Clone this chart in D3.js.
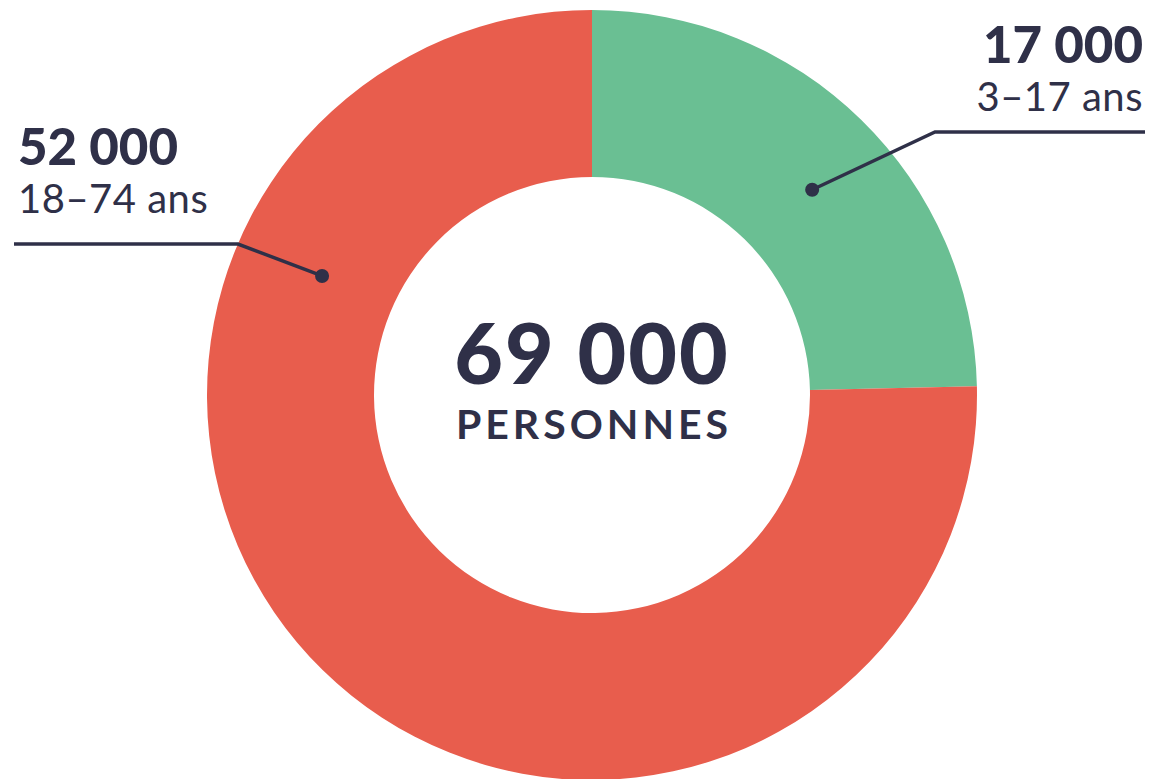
<!DOCTYPE html>
<html>
<head>
<meta charset="utf-8">
<script src="https://cdn.jsdelivr.net/npm/d3@7"></script>
<style>
  body { margin: 0; background: #fff; }
  text { font-family: Lato, "Open Sans", sans-serif; fill: #2f3048; }
</style>
</head>
<body>
<div id="my_dataviz"></div>
<script>
var groups = ["3–17 ans", "18–74 ans"]
var values = [17000, 52000]
var valueLabels = ["17 000", "52 000"]
var totalLabel = "69 000"
var totalUnit = "PERSONNES"

var width = 1150
var height = 779
var cx = 592, cy = 395
var outer = 385, inner = 218
var ink = "#2f3048"

var color = d3.scaleOrdinal().domain(groups).range(["#6abf93", "#e85d4d"])

var svg = d3.select("#my_dataviz")
  .append("svg")
  .attr("width", width)
  .attr("height", height)

var g = svg.append("g").attr("transform", "translate(" + cx + "," + cy + ")")

var data = groups.map(function(k, i){ return {key: k, value: values[i], label: valueLabels[i]} })

// keep the input order: green slice starts at 12 o'clock
var pie = d3.pie().value(function(d){ return d.value }).sort(null)
var data_ready = pie(data)

var arc = d3.arc().innerRadius(inner).outerRadius(outer)

g.selectAll("path")
  .data(data_ready)
  .enter()
  .append("path")
  .attr("d", arc)
  .attr("fill", function(d){ return color(d.data.key) })

// center text
g.append("text")
  .attr("x", 0).attr("y", -11)
  .attr("text-anchor", "middle")
  .style("font-size", "84px").style("font-weight", 900)
  .style("letter-spacing", "2px")
  .text(totalLabel)
g.append("text")
  .attr("x", 2).attr("y", 44)
  .attr("text-anchor", "middle")
  .style("font-size", "41px").style("font-weight", 700)
  .style("letter-spacing", "4px")
  .text(totalUnit)

// callouts: dot inside the slice, elbow, then a horizontal rule under the labels
// pos = where along the slice (0..1) the dot sits
var callouts = [
  {i: 0, pos: 0.53, r: 301, elbowX: 935, ruleY: 132, endX: 1145, anchor: "end", textX: 1143, numY: 63, subY: 111},
  {i: 1, pos: 0.756, r: 295, elbowX: 238, ruleY: 244, endX: 14, anchor: "start", textX: 18, numY: 165, subY: 213}
]

callouts.forEach(function(c){
  var d = data_ready[c.i]
  var a = d.startAngle + (d.endAngle - d.startAngle) * c.pos
  var px = cx + Math.sin(a) * c.r
  var py = cy - Math.cos(a) * c.r
  svg.append("polyline")
    .attr("points", [[px, py], [c.elbowX, c.ruleY], [c.endX, c.ruleY]].map(function(p){ return p.join(",") }).join(" "))
    .attr("fill", "none")
    .attr("stroke", ink)
    .attr("stroke-width", 3.5)
  svg.append("circle")
    .attr("cx", px).attr("cy", py).attr("r", 7)
    .attr("fill", ink)
  svg.append("text")
    .attr("x", c.textX).attr("y", c.numY)
    .attr("text-anchor", c.anchor)
    .style("font-size", "51px").style("font-weight", 900)
    .text(d.data.label)
  svg.append("text")
    .attr("x", c.textX).attr("y", c.subY)
    .attr("text-anchor", c.anchor)
    .style("font-size", "40px").style("font-weight", 400)
    .style("letter-spacing", "0.5px")
    .text(d.data.key)
})
</script>
</body>
</html>
